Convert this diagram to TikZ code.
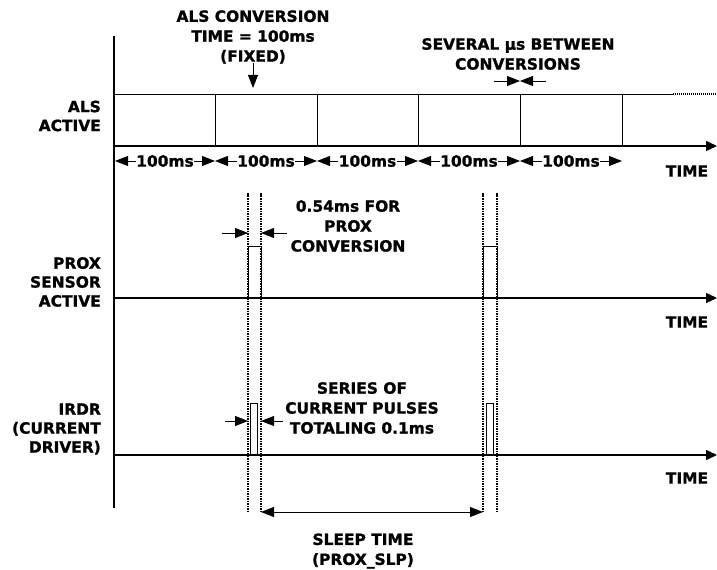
\documentclass[tikz,border=0pt]{standalone}
\usepackage{fontspec}
\setmainfont{DejaVu Sans}[BoldFont={DejaVu Sans Bold},BoldFeatures={FakeBold=1.2}]
\usetikzlibrary{arrows.meta}
\tikzset{
  axisline/.style={line width=1.5bp,-{Triangle[length=11bp,width=10bp]}},
  sig/.style={line width=0.9bp},
  guide/.style={line width=1.7bp,dash pattern=on 1.6bp off 0.9bp},
  tipto/.style={line width=0.9bp,-{Triangle[length=13bp,width=10bp]}},
  dimarr/.style={line width=0.9bp,{Triangle[length=13bp,width=10bp]}-{Triangle[length=13bp,width=10bp]}},
  lbl/.style={align=center,inner sep=0pt,font=\bfseries\fontsize{15.5}{20}\selectfont},
  side/.style={align=right,inner sep=0pt,anchor=east,font=\bfseries\fontsize{15.5}{19}\selectfont},
  msl/.style={fill=white,inner sep=0.3bp,font=\bfseries\fontsize{15.5}{16}\selectfont}
}
\begin{document}
\begin{tikzpicture}[x=1bp,y=-1bp]
\useasboundingbox (0,0) rectangle (717,570);
% vertical reference axis
\coordinate (vtop) at (114,36);
\coordinate (vbot) at (114,508);
\draw[sig,line width=1.3bp] (vtop) -- (vbot);
% time axes
\coordinate (a1s) at (114,146); \coordinate (a1e) at (717,146);
\coordinate (a2s) at (114,298); \coordinate (a2e) at (717,298);
\coordinate (a3s) at (114,455); \coordinate (a3e) at (717,455);
\draw[axisline] (a1s) -- (a1e);
\draw[axisline] (a2s) -- (a2e);
\draw[axisline] (a3s) -- (a3e);
\node[lbl] (t1) at (687,171) {TIME};
\node[lbl] (t2) at (687,322) {TIME};
\node[lbl] (t3) at (687,478) {TIME};
% ALS row
\coordinate (alsL) at (114,94);
\coordinate (alsM) at (673,94);
\coordinate (alsR) at (717,94);
\draw[sig] (alsL) -- (alsM);
\draw[sig,line width=1.3bp,dash pattern=on 1bp off 1bp] (alsM) -- (alsR);
\foreach \x in {215,317,418,520,622}{
  \draw[sig] (\x,94) -- (\x,146);
}
% 100ms dimensions
\foreach \a/\b/\n in {115/215/d1,215/317/d2,317/418/d3,418/520/d4,520/622/d5}{
  \coordinate (\n L) at (\a,161);
  \coordinate (\n R) at (\b,161);
  \draw[dimarr] (\n L) -- (\n R) node[msl,midway] (\n) {100ms};
}
% side labels
\node[side] (lals) at (101,116) {ALS\\ACTIVE};
\node[side] (lprox) at (101,282) {PROX\\SENSOR\\ACTIVE};
\node[side] (lirdr) at (101,429) {IRDR\\(CURRENT\\DRIVER)};
% ALS conversion note
\node[lbl] (alsnote) at (253,37) {ALS CONVERSION\\TIME = 100ms\\(FIXED)};
\coordinate (alsarr) at (253,88);
\draw[tipto] (253,63) -- (alsarr);
% several us note
\node[lbl] (sevnote) at (518,54) {SEVERAL µs BETWEEN\\CONVERSIONS};
\coordinate (sevL) at (494,81); \coordinate (sevM) at (520,81); \coordinate (sevR) at (546,81);
\draw[tipto] (sevL) -- (sevM);
\draw[tipto] (sevR) -- (sevM);
% guide lines
\foreach \x/\n in {248/g1,261/g2,483/g3,497/g4}{
  \coordinate (\n t) at (\x,193);
  \coordinate (\n b) at (\x,512);
  \draw[guide] (\n t) -- (\n b);
}
% prox pulses
\draw[sig] (248,298) -- (248,246) -- (261,246) -- (261,298);
\draw[sig] (483,298) -- (483,246) -- (497,246) -- (497,298);
% irdr pulses
\draw[sig] (250,455) rectangle (257,403);
\draw[sig] (486,455) rectangle (493,403);
% 0.54ms note
\node[lbl] (pnote) at (348,226) {0.54ms FOR\\PROX\\CONVERSION};
\coordinate (p1) at (222,233); \coordinate (p1e) at (248,233);
\coordinate (p2) at (287,233); \coordinate (p2e) at (261,233);
\draw[tipto] (p1) -- (p1e);
\draw[tipto] (p2) -- (p2e);
% series note
\node[lbl] (snote) at (362,408) {SERIES OF\\CURRENT PULSES\\TOTALING 0.1ms};
\coordinate (s1) at (225,421); \coordinate (s1e) at (248,421);
\coordinate (s2) at (283,421); \coordinate (s2e) at (261,421);
\draw[tipto] (s1) -- (s1e);
\draw[tipto] (s2) -- (s2e);
% sleep time
\coordinate (slL) at (261,512); \coordinate (slR) at (483,512);
\draw[dimarr] (slL) -- (slR);
\node[lbl] (slnote) at (363,551) {SLEEP TIME\\(PROX\_SLP)};
\end{tikzpicture}
\end{document}
